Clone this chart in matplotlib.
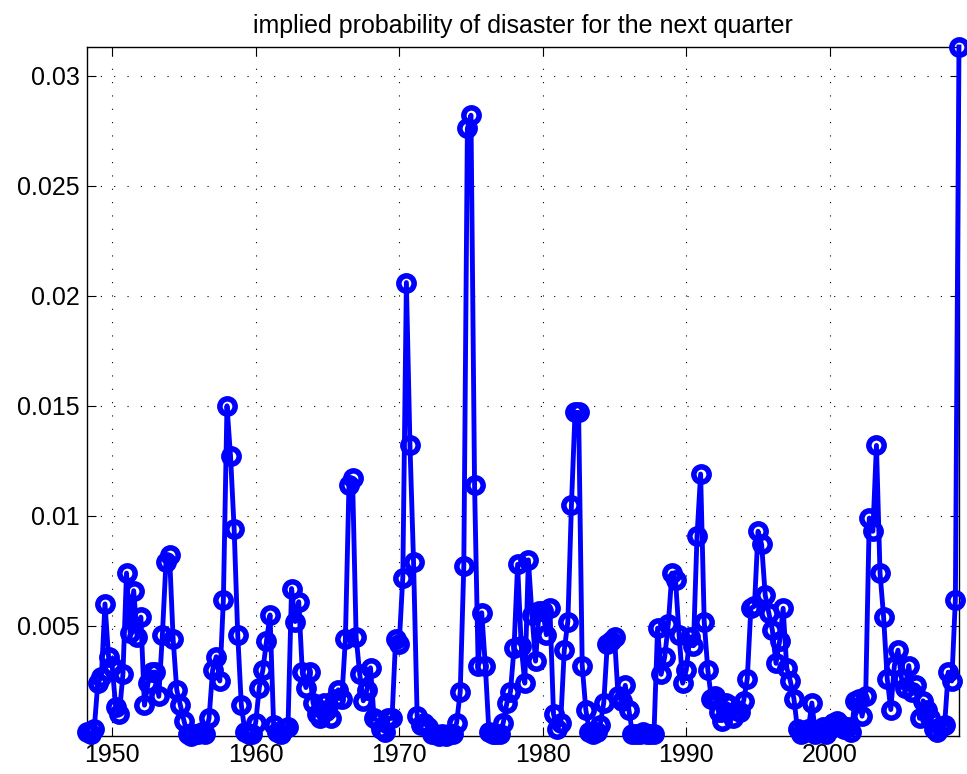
import numpy as np
import matplotlib.pyplot as plt

plt.rcParams['font.family'] = ['Liberation Sans', 'DejaVu Sans']

# quarterly implied disaster probability (in units of 0.001), 1948Q2 .. 2009Q1
p1948 = [0.2, 0.1, 0.3]
p1949_1958 = [2.4, 2.7, 6.0, 3.6,
              3.2, 1.3, 1.0, 2.8,
              7.4, 4.7, 6.6, 4.5,
              5.4, 1.4, 2.4, 2.9,
              2.9, 1.8, 4.6, 7.9,
              8.2, 4.4, 2.1, 1.4,
              0.7, 0.1, 0.0, 0.1,
              0.1, 0.2, 0.1, 0.8,
              3.0, 3.6, 2.5, 6.2,
              15.0, 12.7, 9.4, 4.6]
p1959_1968 = [1.4, 0.2, 0.1, 0.1,
              0.6, 2.2, 3.0, 4.3,
              5.5, 0.5, 0.2, 0.1,
              0.3, 0.4, 6.7, 5.2,
              6.1, 2.9, 2.2, 2.9,
              1.5, 1.0, 0.8, 1.5,
              1.2, 0.8, 1.7, 2.1,
              1.7, 4.4, 11.4, 11.7,
              4.5, 2.8, 1.6, 2.1,
              3.1, 0.8, 0.7, 0.3]
p1969_1978 = [0.2, 0.8, 0.8, 4.4,
              4.2, 7.2, 20.6, 13.2,
              7.9, 0.9, 0.5, 0.6,
              0.4, 0.1, 0.1, 0.0,
              0.1, 0.0, 0.1, 0.1,
              0.6, 2.0, 7.7, 27.6,
              28.2, 11.4, 3.2, 5.6,
              3.2, 0.2, 0.1, 0.1,
              0.1, 0.6, 1.5, 2.0,
              4.0, 7.8, 4.1, 2.4]
p1979_1988 = [8.0, 5.5, 3.4, 5.7,
              5.7, 4.6, 5.8, 1.0,
              0.3, 0.6, 3.9, 5.2,
              10.5, 14.7, 14.7, 3.2,
              1.2, 0.2, 0.1, 0.2,
              0.5, 1.5, 4.2, 4.3,
              4.5, 1.8, 1.6, 2.3,
              1.2, 0.1, 0.1, 0.1,
              0.2, 0.1, 0.1, 0.1,
              4.9, 2.8, 3.6, 5.1]
p1989_1998 = [7.4, 7.1, 4.6, 2.4,
              3.0, 4.5, 4.1, 9.1,
              11.9, 5.2, 3.0, 1.7,
              1.8, 1.1, 0.7, 1.5,
              1.4, 0.8, 1.2, 1.1,
              1.6, 2.6, 5.8, 5.9,
              9.3, 8.7, 6.4, 5.6,
              4.8, 3.3, 4.3, 5.8,
              3.1, 2.5, 1.7, 0.3,
              0.1, 0.2, 0.3, 1.5]
p1999_2009 = [0.1, 0.2, 0.4, 0.1,
              0.3, 0.6, 0.7, 0.5,
              0.3, 0.4, 0.2, 1.6,
              1.7, 0.9, 1.8, 9.9,
              9.3, 13.2, 7.4, 5.4,
              2.6, 1.2, 3.2, 3.9,
              2.6, 2.2, 3.2, 2.0,
              2.3, 0.8, 1.6, 1.2,
              0.8, 0.3, 0.2, 0.4,
              0.5, 2.9, 2.5, 6.2,
              31.3]

prob = np.array(p1948 + p1949_1958 + p1959_1968 + p1969_1978
                + p1979_1988 + p1989_1998 + p1999_2009) / 1000.0
dates = 1948.25 + 0.25 * np.arange(len(prob))

xticks = [1950, 1960, 1970, 1980, 1990, 2000]
yticks = [0.005, 0.01, 0.015, 0.02, 0.025, 0.03]
yticklabels = ['0.005', '0.01', '0.015', '0.02', '0.025', '0.03']

fig = plt.figure(figsize=(9.67, 7.74), dpi=100)
ax = fig.add_axes([0.090, 0.0491, 0.9017, 0.8902])

ax.plot(dates, prob, color='blue', linewidth=3.5, marker='o',
        markersize=11, markerfacecolor='none', markeredgewidth=4,
        clip_on=False, zorder=3)

ax.set_xlim(dates[0], dates[-1])
ax.set_ylim(0, prob.max())
ax.set_xticks(xticks)
ax.set_yticks(yticks)
ax.set_yticklabels(yticklabels)
ax.tick_params(direction='in', length=6.5, width=0.8, labelsize=18,
               top=True, right=True, pad=5)
ax.grid(True, color='black', linestyle=(0, (1, 11)), linewidth=0.8)
for s in ax.spines.values():
    s.set_linewidth(1.0)

ax.set_title('implied probability of disaster for the next quarter',
             fontsize=18, pad=10)

fig.savefig('out.png', dpi=100)
